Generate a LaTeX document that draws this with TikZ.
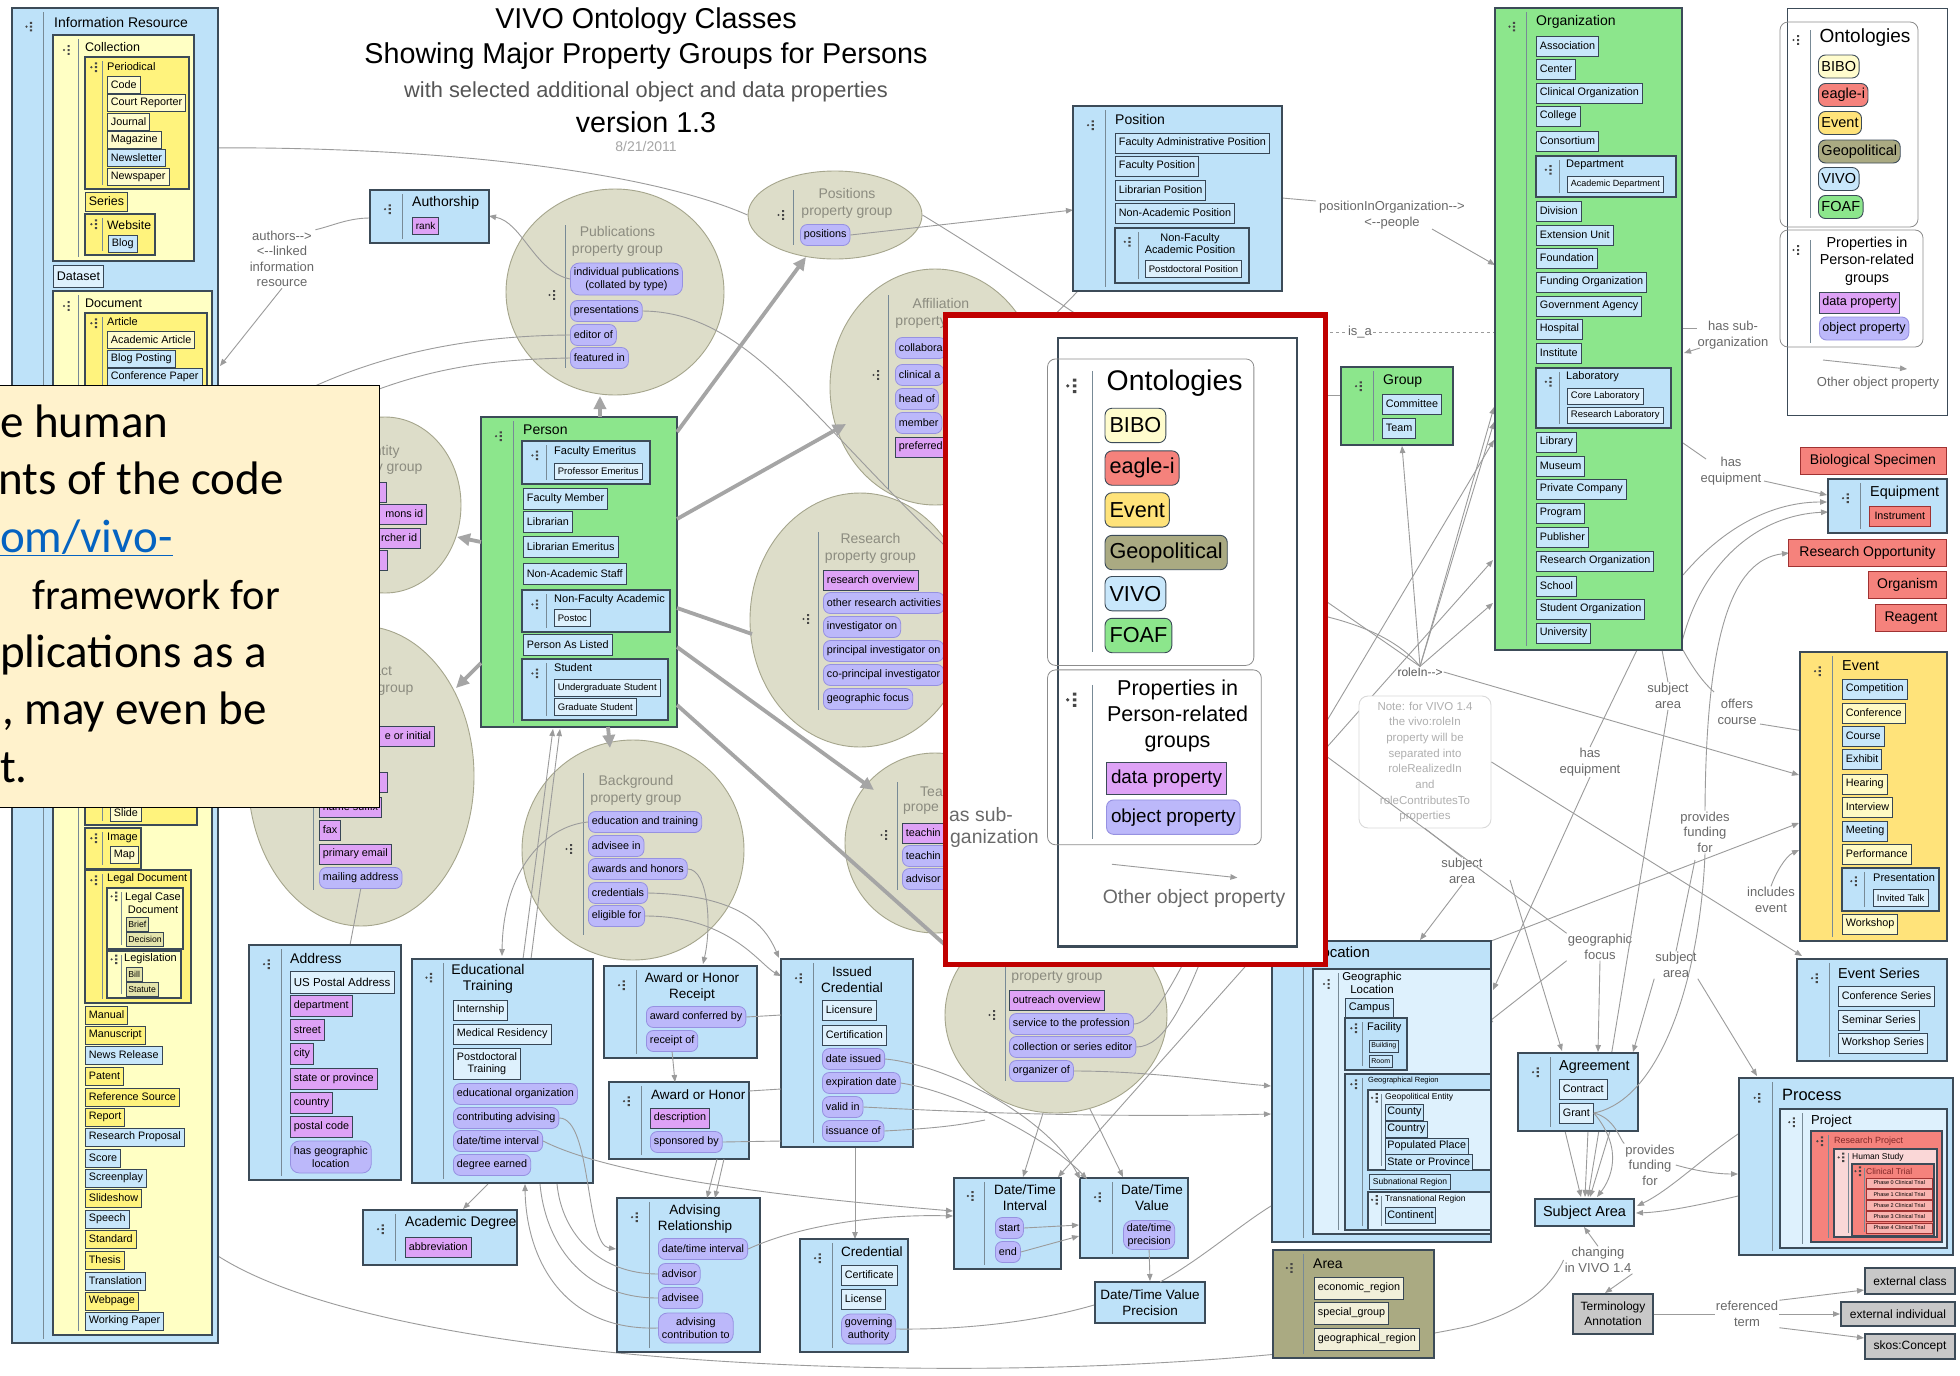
\documentclass[tikz,border=0pt]{standalone}
\usepackage{fontspec}
\setmainfont{Liberation Sans}
\setsansfont{Liberation Sans}
\newfontfamily\callfont{Carlito}
\usetikzlibrary{arrows.meta,fit,shapes.geometric}

\definecolor{vivob}{RGB}{190,226,249}
\definecolor{vivoi}{RGB}{200,231,251}
\definecolor{paleb}{RGB}{222,241,253}
\definecolor{foafg}{RGB}{140,230,140}
\definecolor{bibop}{RGB}{255,255,196}
\definecolor{biboy}{RGB}{255,243,125}
\definecolor{biboc}{RGB}{255,252,205}
\definecolor{evty}{RGB}{255,227,122}
\definecolor{evtp}{RGB}{255,250,196}
\definecolor{eagr}{RGB}{245,130,124}
\definecolor{eagl}{RGB}{160,50,50}
\definecolor{pinkl}{RGB}{250,215,215}
\definecolor{geoo}{RGB}{170,170,130}
\definecolor{khaki}{RGB}{228,228,172}
\definecolor{beige}{RGB}{242,240,218}
\definecolor{pgc}{RGB}{221,221,201}
\definecolor{pgl}{RGB}{165,165,140}
\definecolor{pgt}{RGB}{140,140,128}
\definecolor{dpc}{RGB}{222,162,246}
\definecolor{opc}{RGB}{188,184,250}
\definecolor{opl}{RGB}{150,145,225}
\definecolor{itl}{RGB}{55,70,85}
\definecolor{bdc}{RGB}{60,75,88}
\definecolor{divc}{RGB}{120,138,150}
\definecolor{gripc}{RGB}{70,70,70}
\definecolor{lnc}{RGB}{155,155,155}
\definecolor{thkc}{RGB}{165,165,165}
\definecolor{lblc}{RGB}{105,105,105}
\definecolor{grc}{RGB}{200,200,200}
\definecolor{subc}{RGB}{85,85,85}
\definecolor{datec}{RGB}{165,165,165}
\definecolor{callc}{RGB}{255,242,204}
\definecolor{linkc}{RGB}{5,99,193}
\definecolor{redc}{RGB}{192,0,0}
\definecolor{notec}{RGB}{175,175,175}

\tikzset{
  clsbox/.style={draw=bdc, line width=1.1pt, inner sep=0pt},
  ttl/.style={anchor=west, inner sep=0pt, font=\fontsize{14}{16}\selectfont},
  ttlc/.style={inner sep=0pt, align=center, font=\fontsize{13.5}{16}\selectfont},
  sttl/.style={anchor=west, inner sep=0pt, font=\fontsize{11}{12.5}\selectfont},
  it/.style={draw=itl, line width=0.8pt, anchor=west, inner xsep=3.5pt, inner ysep=0pt, minimum height=20pt, font=\fontsize{10.8}{12.5}\selectfont},
  itb/.style={it, fill=vivoi},
  itw/.style={it, fill=paleb},
  ity/.style={it, fill=biboc},
  ityy/.style={it, fill=biboy},
  itp/.style={it, fill=evtp},
  itk/.style={it, fill=khaki, font=\fontsize{8.7}{10}\selectfont, minimum height=14pt, inner xsep=2pt},
  itg/.style={it, fill=beige, minimum height=22pt},
  dp/.style={it, fill=dpc},
  op/.style={it, fill=opc, draw=opl, rounded corners=7pt, minimum height=21pt},
  pgroup/.style={ellipse, draw=pgl, fill=pgc, line width=0.9pt, inner sep=0pt},
  pgttl/.style={text=pgt, align=center, inner sep=0pt, font=\fontsize{14}{16.5}\selectfont},
  lbl/.style={text=lblc, align=center, inner sep=1pt, font=\fontsize{13}{15.5}\selectfont},
  cn/.style={draw=lnc, line width=0.9pt},
  cna/.style={cn, ->},
  thk/.style={draw=thkc, line width=3.8pt, -{Triangle[length=13pt,width=12pt]}},
  thkn/.style={draw=thkc, line width=3.8pt},
  redb/.style={draw=eagl, fill=eagr, line width=1pt, inner xsep=6pt, inner ysep=0pt, minimum height=27pt, font=\fontsize{14}{16}\selectfont},
  vbox/.style={draw=bdc, fill=vivob, line width=1.1pt, align=center, inner sep=3pt, font=\fontsize{14}{16}\selectfont},
  grayb/.style={draw=bdc, fill=grc, line width=1.1pt, align=center, inner sep=3pt, font=\fontsize{12}{15}\selectfont},
  notebox/.style={draw=black!15, fill=white, rounded corners=9pt, line width=0.9pt, text=notec, align=center, font=\fontsize{11.5}{15.7}\selectfont, minimum width=132pt, minimum height=132pt},
  lgpill/.style={draw=bdc, line width=0.9pt, rounded corners=7pt, anchor=west, minimum height=23pt, inner xsep=3pt, inner ysep=0pt, font=\fontsize{14.5}{16}\selectfont},
  grpl/.style={draw=black!45, line width=0.8pt},
  callbox/.style={draw=black, fill=callc, line width=1.4pt, inner sep=0pt},
  calltxt/.style={anchor=base west, inner sep=0pt, font=\callfont\fontsize{47}{54}\selectfont},
  phase/.style={draw=eagl, fill=eagr!60!white, line width=0.5pt, anchor=west, inner xsep=1.5pt, inner ysep=0pt, minimum height=10pt, minimum width=66pt, font=\fontsize{5.5}{6}\selectfont},
}

\newcommand{\rarr}{-{}->}
\newcommand{\larr}{<-{}-}
\newcommand{\gripicon}[2]{\fill[gripc] (#1-3.5,#2) circle (1.2pt) (#1,#2-4.8) rectangle ++(2.2,2) (#1,#2-1) rectangle ++(2.2,2) (#1,#2+2.8) rectangle ++(2.2,2);}
\newcommand{\classbox}[7]{\node[clsbox, fill=#6, fit={(#2,#3) (#4,#5)}] (#1) {};
  \gripicon{#2+0.58*#7}{#3+0.6*#7}
  \draw[divc, line width=0.9pt] (#2+#7,#3+4) -- (#2+#7,#5-4);}
\newcommand{\legendbody}[2]{%
  \draw[bdc, line width=#2] (0,0) rectangle (160,407);
  \draw[grpl, rounded corners=8pt] (-7,14) rectangle (131,219);
  \draw[grpl, rounded corners=8pt] (-7,222) rectangle (136,339);
  \draw[divc, line width=0.9pt] (23,22) -- (23,210) (23,232) -- (23,335);
  \gripicon{10}{32}
  \gripicon{10}{242}
  \node[inner sep=0pt, font=\fontsize{19}{21}\selectfont] (#1on) at (78,30) {Ontologies};
  \node[lgpill, fill=biboc] (#1bibo) at (31,58.5) {BIBO};
  \node[lgpill, fill=eagr] (#1eag) at (31,87) {eagle-i};
  \node[lgpill, fill=evty] (#1evt) at (31,115) {Event};
  \node[lgpill, fill=geoo] (#1geo) at (31,143.5) {Geopolitical};
  \node[lgpill, fill=vivoi] (#1vivo) at (31,171) {VIVO};
  \node[lgpill, fill=foafg] (#1foaf) at (31,199) {FOAF};
  \node[inner sep=0pt, align=center, font=\fontsize{14.4}{17.5}\selectfont] (#1prop) at (80,253) {Properties in\\Person-related\\groups};
  \node[lgpill, fill=dpc, rounded corners=0pt, minimum height=21pt, font=\fontsize{12.6}{14}\selectfont] (#1dp) at (32,294.5) {data property};
  \node[lgpill, fill=opc, draw=opl, font=\fontsize{12.6}{14}\selectfont] (#1op) at (32,320.5) {object property};
  \draw[cna] (36,352) -- (120,361);
  \node[lbl] (#1oth) at (91,375) {Other object property};
}

\begin{document}
\begin{tikzpicture}[x=1pt, y=-1pt, >={Triangle[length=7pt,width=5.5pt]}]
\useasboundingbox (0,0) rectangle (1960,1376);
\fill[white] (0,0) rectangle (1960,1376);

% property groups
\node[pgroup, minimum width=218pt, minimum height=206pt] (pubg) at (615,292) {};
\draw[divc, line width=0.9pt] (565,225) -- (565,368);
\gripicon{553}{295}
\node[pgttl] (pubt) at (617.5,241.5) {Publications\\property group};
\node[op, align=center, minimum height=32pt, rounded corners=9pt] (pub1) at (570,279) {individual publications\\(collated by type)};
\node[op] (pub2) at (570,311) {presentations};
\node[op] (pub3) at (570,335) {editor of};
\node[op] (pub4) at (570,358) {featured in};

\node[pgroup, minimum width=174pt, minimum height=88pt] (posg) at (835,215) {};
\draw[divc, line width=0.9pt] (793,190) -- (793,245);
\gripicon{782}{215}
\node[pgttl] (post) at (847,203.5) {Positions\\property group};
\node[op] (pos1) at (800,235) {positions};

\node[pgroup, minimum width=210pt, minimum height=236pt] (affg) at (935,387) {};
\draw[divc, line width=0.9pt] (888,295) -- (888,490);
\gripicon{877}{375}
\node[pgttl] (afft) at (941,313.5) {Affiliation\\property group};
\node[op] (af1) at (895,348) {collabora\hspace{14pt}};
\node[op] (af2) at (895,375) {clinical a\hspace{14pt}};
\node[op] (af3) at (895,399) {head of\hspace{20pt}};
\node[op] (af4) at (895,423) {member\hspace{20pt}};
\node[dp] (af5) at (895,447) {preferred\hspace{14pt}};

\node[pgroup, minimum width=152pt, minimum height=176pt] (idg) at (385,505) {};
\node[pgttl] (idt) at (377,460) {Identity\\property group};
\node[dp, anchor=east] (id1) at (387,492) {\makebox[50pt]{}};
\node[dp, anchor=east] (id2) at (427,514) {\makebox[80pt][r]{mons id}};
\node[dp, anchor=east] (id3) at (421,538) {\makebox[80pt][r]{rcher id}};
\node[dp, anchor=east] (id4) at (388,560) {\makebox[50pt]{}};

\node[pgroup, minimum width=226pt, minimum height=300pt] (ctg) at (361,776) {};
\draw[divc, line width=0.9pt] (313,700) -- (313,890);
\node[pgttl] (ctt) at (368,680.5) {Contact\\property group};
\node[dp, anchor=east] (ct1) at (435,736) {\makebox[110pt][r]{e or initial}};
\node[dp, anchor=east] (ct2) at (388,782) {\makebox[60pt]{}};
\node[dp] (ct3) at (319,807) {name suffix};
\node[dp] (ct4) at (319,830) {fax};
\node[dp] (ct5) at (319,854) {primary email};
\node[op] (ct6) at (319,878) {mailing address};

\node[pgroup, minimum width=220pt, minimum height=254pt] (resg) at (860,620) {};
\draw[divc, line width=0.9pt] (818,532) -- (818,710);
\gripicon{807}{619}
\node[pgttl] (rest) at (870.5,548.5) {Research\\property group};
\node[dp] (res1) at (823,580) {research overview};
\node[op] (res2) at (823,603) {other research activities};
\node[op] (res3) at (823,627) {investigator on};
\node[op] (res4) at (823,651) {principal investigator on};
\node[op] (res5) at (823,675) {co-principal investigator};
\node[op] (res6) at (823,699) {geographic focus};

\node[pgroup, minimum width=222pt, minimum height=220pt] (bgg) at (633,850) {};
\draw[divc, line width=0.9pt] (583,773) -- (583,935);
\gripicon{570}{849}
\node[pgttl] (bgt) at (636,790.5) {Background\\property group};
\node[op] (bg1) at (588,822) {education and training};
\node[op] (bg2) at (588,846) {advisee in};
\node[op] (bg3) at (588,869) {awards and honors};
\node[op] (bg4) at (588,893) {credentials};
\node[op] (bg5) at (588,916) {eligible for};

\node[pgroup, minimum width=180pt, minimum height=180pt] (teg) at (935,843) {};
\draw[divc, line width=0.9pt] (897,782) -- (897,890);
\gripicon{885}{835}
\node[pgttl, anchor=west] (tet1) at (920,792) {Tea};
\node[pgttl, anchor=west] (tet2) at (903,809) {prope};
\node[dp] (te1) at (902,833) {\makebox[41pt][l]{teachin}};
\node[op] (te2) at (902,856) {\makebox[41pt][l]{teachin}};
\node[op] (te3) at (902,879) {\makebox[41pt][l]{advisor}};

\node[pgroup, minimum width=222pt, minimum height=196pt] (svg) at (1056,1015) {};
\draw[divc, line width=0.9pt] (1005,950) -- (1005,1081);
\gripicon{993}{1015}
\node[pgttl] (svt) at (1057,977) {property group};
\node[dp] (sv1) at (1009,1000) {outreach overview};
\node[op] (sv2) at (1009,1024) {service to the profession};
\node[op] (sv3) at (1009,1047) {collection or series editor};
\node[op] (sv4) at (1009,1071) {organizer of};

% edge labels
\node[lbl] (lauth) at (282,259) {authors\rarr\\\larr linked\\information\\resource};
\node[lbl] (lpio) at (1392,215) {positionInOrganization\rarr\\\larr people};
\node[lbl, fill=white] (lisa) at (1360,332) {is\_a};
\node[lbl] (lsub) at (1733,335) {has sub-\\organization};
\node[lbl] (lheq1) at (1731,471) {has\\equipment};
\node[lbl] (lsa1) at (1668,696) {subject\\area};
\node[lbl] (lofc) at (1737,712) {offers\\course};
\node[lbl] (lheq2) at (1590,762) {has\\equipment};
\node[lbl] (lpf1) at (1705,832) {provides\\funding\\for};
\node[lbl] (lie) at (1771,900) {includes\\event};
\node[lbl, text=black!65, font=\fontsize{12}{14}\selectfont] (lrole) at (1420,672) {roleIn\rarr};
\node[lbl] (lsa2) at (1462,871) {subject\\area};
\node[lbl] (lgf) at (1600,947) {geographic\\focus};
\node[lbl] (lsa3) at (1676,965) {subject\\area};
\node[lbl] (lpf2) at (1650,1165) {provides\\funding\\for};
\node[lbl] (lchg) at (1598,1260) {changing\\in VIVO 1.4};
\node[lbl] (lref) at (1747,1314) {referenced\\term};

% long connectors
\draw[cna] (posg.west) .. controls (640,168) and (420,146) .. (196,148);
\draw[cna] (pub1.west) .. controls (535,272) and (522,222) .. (489,216);
\draw[cn] (370,218) .. controls (348,218) and (332,226) .. (lauth.north east);
\draw[cna] (lauth.south) -- (220,366);
\draw[cna] (pub3.west) .. controls (440,336) and (330,365) .. (220,440);
\draw[cna] (pub4.west) .. controls (450,360) and (370,378) .. (220,470);
\draw[cn] (pub2.east) .. controls (750,312) and (810,420) .. (960,560);
\draw[cna] (pos1.east) -- (1073,210);
\draw[cn] (posg.east) .. controls (980,250) and (1040,290) .. (1100,330);
\draw[cn] (1078,291) -- (1040,330);
\draw[cn] (1282,198) -- (1316,201);
\draw[cna] (1432,229) -- (1495,265);
\draw[cn, dashed] (1300,332) -- (lisa.west);
\draw[cn, dashed] (lisa.east) -- (1495,332);
\draw[cn] (1341,395) -- (1320,395);
\draw[cna] (lrole.north) -- (1402,446);
\draw[cna] (lrole.north) -- (1494,407);
\draw[cna] (lrole.north) -- (1494,422);
\draw[cna] (lrole.north) -- (1493,603);
\draw[cna] (lrole.east) -- (1799,775);
\draw[cn] (1180,500) -- (lrole.north);
\draw[cn] (1150,600) .. controls (1320,600) and (1390,630) .. (lrole.north);
\draw[cna] (1250,850) -- (1494,440);
\draw[cna] (1280,800) -- (1493,560);
\draw[cn] (1683,328) -- (1697,328);
\draw[cna] (1700,348) -- (1684,353);
\draw[cn] (1683,443) -- (1706,459);
\draw[cna] (1764,481) -- (1827,495);
\draw[cna] (1683,575) .. controls (1730,520) and (1780,502) .. (1827,502);
\draw[cna] (1680,650) .. controls (1700,560) and (1760,515) .. (1828,512);
\draw[cna] (lpf1.north) .. controls (1706,640) and (1730,560) .. (1789,553);
\draw[cn] (1683,650) .. controls (1695,672) and (1705,684) .. (1714,692);
\draw[cna] (1760,724) -- (1841,737);
\draw[cn] (1662,650) -- (lsa1.north);
\draw[cna] (lsa1.south) -- (1588,1197);
\draw[cn] (1637,650) -- (lheq2.north);
\draw[cna] (lheq2.south) -- (1493,990);
\draw[cna] (lie.north) .. controls (1776,872) and (1786,856) .. (1799,850);
\draw[cna] (1491,941) -- (1799,823);
\node[notebox] (note14) at (1425,762) {Note: for VIVO 1.4\\the vivo:roleIn\\property will be\\separated into\\roleRealizedIn\\and\\roleContributesTo\\properties};
\draw[cna] (note14.east) -- (1802,956);
\draw[cn] (note14.south) -- (lsa2.north);
\draw[cna] (lsa2.south) -- (1420,940);
\draw[cna] (lgf.south west) -- (1486,1024);
\draw[cna] (lgf.south) -- (1598,1052);
\draw[cn] (1250,700) -- (lgf.north west);
\draw[cna] (1510,880) -- (1562,1051);
\draw[cna] (lsa3.south west) -- (1633,1052);
\draw[cna] (lsa3.south east) -- (1757,1076);
\draw[cn] (1695,860) -- (lsa3.north);
\draw[cna] (1565,1131) -- (1581,1197);
\draw[cna] (1588,1131) -- (1585,1197);
\draw[cna] (1610,1131) -- (1590,1197);
\draw[cna] (1738,1196) .. controls (1700,1205) and (1665,1212) .. (1636,1213);
\draw[cna] (1738,1134) .. controls (1700,1160) and (1670,1190) .. (1637,1206);
\draw[cna] (lpf2.east) .. controls (1700,1172) and (1720,1174) .. (1738,1174);
\draw[cn] (218,1256) .. controls (420,1385) and (1150,1395) .. (1470,1326) .. controls (1520,1312) and (1550,1290) .. (lchg.west);
\draw[cna] (bg1.west) .. controls (545,826) and (503,870) .. (502,956);
\draw[cna] (523,959) -- (553,729);
\draw[cna] (531,959) -- (560,729);
\draw[cna] (bg3.east) .. controls (708,869) and (712,925) .. (703,964);
\draw[cna] (bg4.east) .. controls (740,895) and (765,925) .. (779,958);
\draw[cna] (bg5.east) .. controls (730,916) and (760,965) .. (781,976);
\draw[cn] (ct6.south) -- (350,945);
\draw[cna] (855,1147) -- (855,1239);
\draw[cna] (1043,1113) -- (1023,1177);
\draw[cna] (1090,1109) -- (1123,1177);
\draw[cna] (1300,905) -- (1058,1177);
\draw[cn] (sv2.east) .. controls (1150,1024) and (1170,990) .. (1190,950);
\draw[cn] (sv3.east) .. controls (1165,1047) and (1185,1000) .. (1205,950);
\draw[cna] (sv4.east) .. controls (1150,1071) and (1220,1082) .. (1271,1086);

% Information Resource
\classbox{ir}{12}{8}{218}{1343}{vivob}{31}
\node[ttl] (irt) at (54,22) {Information Resource};
\classbox{coll}{53}{35}{194}{261}{bibop}{25}
\node[ttl, font=\fontsize{12.5}{14}\selectfont] (collt) at (85,47) {Collection};
\classbox{peri}{85}{57}{189}{189}{biboy}{17}
\node[sttl] (perit) at (107,67) {Periodical};
\foreach \txt/\yy/\st [count=\i] in {Code/85/ity,Court Reporter/103/ity,Journal/122/ity,Magazine/140/ity,Newsletter/158/itb,Newspaper/177/ity}
  \node[\st, minimum height=17pt] (peri\i) at (107,\yy) {\txt};
\node[ityy, minimum height=19pt, font=\fontsize{12.4}{14}\selectfont] (ser) at (85,201.5) {Series};
\classbox{web}{85}{214}{155}{255}{biboy}{17}
\node[sttl, font=\fontsize{12.2}{14}\selectfont] (webt) at (107,225) {Website};
\node[itb, minimum height=17pt] (blog) at (108,243.5) {Blog};
\node[itw, minimum height=22pt, font=\fontsize{12.5}{14}\selectfont] (dset) at (53,276) {Dataset};
\classbox{doc}{53}{291}{212}{1335}{bibop}{25}
\node[ttl, font=\fontsize{12.5}{14}\selectfont] (doct) at (85,303) {Document};
\classbox{art}{85}{313}{207}{520}{biboy}{17}
\node[sttl] (artt) at (107,322) {Article};
\node[ity, minimum height=17pt] (art1) at (107,340) {Academic Article};
\node[itb, minimum height=17pt] (art2) at (107,359) {Blog Posting};
\node[itb, minimum height=17pt] (art3) at (107,377) {Conference Paper};
\classbox{slid}{85}{700}{197}{825}{biboy}{17}
\node[ity, minimum height=17pt] (slide) at (110,813) {Slide};
\classbox{img}{85}{828}{141}{869}{biboy}{17}
\node[sttl] (imgt) at (107,838) {Image};
\node[ity, minimum height=17pt] (map) at (110,855) {Map};
\classbox{legal}{85}{870}{191}{1003}{biboy}{17}
\node[sttl] (legalt) at (107,879) {Legal Document};
\classbox{lcase}{107}{888}{183}{949}{bibop}{14}
\node[ttlc, font=\fontsize{11}{12.5}\selectfont] (lcaset) at (153,903) {Legal Case\\Document};
\node[itk] (brief) at (126,924) {Brief};
\node[itk] (decis) at (126,939) {Decision};
\classbox{legis}{107}{951}{181}{998}{bibop}{14}
\node[sttl] (legist) at (124,959) {Legislation};
\node[itk] (bill) at (126,974) {Bill};
\node[itk] (stat) at (126,989) {Statute};
\foreach \txt/\yy/\st [count=\i] in {Manual/1015/ityy,Manuscript/1035/ityy,News Release/1055/itb,Patent/1076/ityy,Reference Source/1097/ityy,Report/1117/ityy,Research Proposal/1137/itb,Score/1158/itb,Screenplay/1178/itb,Slideshow/1198/ityy,Speech/1219/itb,Standard/1239/ityy,Thesis/1260/ityy,Translation/1281/itb,Webpage/1301/ityy,Working Paper/1321/itb}
  \node[\st, minimum height=18pt] (doc\i) at (85,\yy) {\txt};

% Authorship
\classbox{auth}{370}{190}{489}{243}{vivob}{32}
\node[ttl] (autht) at (412,203) {Authorship};
\node[dp, minimum height=17pt, font=\fontsize{10}{11}\selectfont] (rank) at (412,226) {rank};

% Person
\classbox{person}{481}{417}{677}{727}{foafg}{32}
\node[ttl] (persont) at (523,430) {Person};
\classbox{femer}{522}{441}{650}{484}{vivob}{24}
\node[sttl] (femert) at (554,452) {Faculty Emeritus};
\node[itw, minimum height=16pt, font=\fontsize{9.5}{11}\selectfont] (prof) at (554,471) {Professor Emeritus};
\foreach \txt/\yy [count=\i] in {Faculty Member/499,Librarian/522,Librarian Emeritus/547,Non-Academic Staff/574,Person As Listed/645}
  \node[itb, minimum height=21pt] (per\i) at (523,\yy) {\txt};
\classbox{nfa}{522}{590}{670}{632}{vivob}{24}
\node[sttl] (nfat) at (554,600) {Non-Faculty Academic};
\node[itw, minimum height=17pt, font=\fontsize{9.5}{11}\selectfont] (postoc) at (554,618) {Postoc};
\classbox{stud}{522}{659}{668}{720}{vivob}{24}
\node[sttl] (studt) at (554,668) {Student};
\node[itw, minimum height=17pt, font=\fontsize{9.5}{11}\selectfont] (ugrad) at (554,688) {Undergraduate Student};
\node[itw, minimum height=17pt, font=\fontsize{9.5}{11}\selectfont] (grad) at (554,707) {Graduate Student};

% Position
\classbox{posn}{1073}{106}{1282}{291}{vivob}{32}
\node[ttl] (posnt) at (1115,119) {Position};
\foreach \txt/\yy [count=\i] in {Faculty Administrative Position/143,Faculty Position/166,Librarian Position/190,Non-Academic Position/213}
  \node[itb] (posn\i) at (1115,\yy) {\txt};
\classbox{nfap}{1115}{228}{1249}{283}{vivob}{23}
\node[ttlc, font=\fontsize{11}{12}\selectfont] (nfapt) at (1190,244) {Non-Faculty\\Academic Position};
\node[itw, minimum height=17pt, font=\fontsize{9.5}{11}\selectfont] (pdoc) at (1145,269) {Postdoctoral Position};

% Group
\classbox{grp}{1341}{367}{1453}{445}{foafg}{32}
\node[ttl] (grpt) at (1383,381) {Group};
\node[itb] (comm) at (1382,404) {Committee};
\node[itb] (team) at (1382,428) {Team};

% Organization
\classbox{org}{1495}{8}{1682}{650}{foafg}{31}
\node[ttl] (orgt) at (1536,22) {Organization};
\foreach \txt/\yy [count=\i] in {Association/46,Center/69,Clinical Organization/93,College/116,Consortium/141,Division/211,Extension Unit/235,Foundation/258,Funding Organization/282,Government Agency/306,Hospital/329,Institute/353,Library/442,Museum/466,Private Company/489,Program/513,Publisher/537,Research Organization/561,School/586,Student Organization/609,University/633}
  \node[itb] (org\i) at (1536,\yy) {\txt};
\classbox{dept}{1536}{156}{1676}{197}{vivob}{23}
\node[sttl] (deptt) at (1566,165) {Department};
\node[itw, minimum height=16pt, font=\fontsize{9}{10}\selectfont] (adept) at (1567,184) {Academic Department};
\classbox{lab}{1536}{368}{1671}{428}{vivob}{23}
\node[sttl] (labt) at (1566,377) {Laboratory};
\node[itw, minimum height=16pt, font=\fontsize{9.5}{11}\selectfont] (clab) at (1567,396) {Core Laboratory};
\node[itw, minimum height=16pt, font=\fontsize{9.5}{11}\selectfont] (rlab) at (1567,415) {Research Laboratory};

% eagle-i classes
\node[redb, minimum width=146pt] (bio) at (1873,461) {Biological Specimen};
\classbox{equip}{1828}{479}{1947}{533}{vivob}{32}
\node[ttl, font=\fontsize{14.4}{16}\selectfont] (equipt) at (1870,493) {Equipment};
\node[redb, anchor=west, minimum height=20pt, font=\fontsize{10.7}{12}\selectfont, inner xsep=5pt] (instr) at (1869,516) {Instrument};
\node[redb, anchor=east, minimum width=158pt] (ropp) at (1947,552.5) {Research Opportunity};
\node[redb, anchor=east, minimum width=78pt] (orgm) at (1947,585) {Organism};
\node[redb, anchor=east, minimum width=71pt] (reag) at (1947,618) {Reagent};

% Event
\classbox{evt}{1800}{652}{1947}{941}{evty}{32}
\node[ttl, font=\fontsize{14.4}{16}\selectfont] (evtt) at (1842,666) {Event};
\foreach \txt/\yy/\st [count=\i] in {Competition/689/itb,Conference/713/itp,Course/736/itb,Exhibit/759/itb,Hearing/784/itp,Interview/807/itp,Meeting/831/itb,Performance/854/itp,Workshop/924/itp}
  \node[\st] (ev\i) at (1842,\yy) {\txt};
\classbox{prs}{1842}{868}{1939}{911}{vivob}{22}
\node[sttl] (prst) at (1873,878) {Presentation};
\node[itw, minimum height=17pt, font=\fontsize{9.5}{11}\selectfont] (talk) at (1873,898) {Invited Talk};

\classbox{evs}{1797}{959}{1947}{1061}{vivob}{32}
\node[ttl, font=\fontsize{14.4}{16}\selectfont] (evst) at (1838,973) {Event Series};
\foreach \txt/\yy [count=\i] in {Conference Series/996,Seminar Series/1020,Workshop Series/1043}
  \node[itw] (evs\i) at (1838,\yy) {\txt};

% Process
\classbox{proc}{1739}{1078}{1953}{1255}{vivob}{33}
\node[ttl, font=\fontsize{16.4}{18}\selectfont] (proct) at (1782,1095) {Process};
\classbox{proj}{1780}{1109}{1947}{1248}{paleb}{22}
\node[ttl, font=\fontsize{13}{15}\selectfont] (projt) at (1811,1121) {Project};
\classbox{rproj}{1811}{1131}{1942}{1242}{eagr}{17}
\node[sttl, font=\fontsize{9}{10}\selectfont, text=eagl!80!black] (rprojt) at (1834,1141) {Research Project};
\classbox{hstud}{1834}{1149}{1937}{1237}{pinkl}{14}
\node[sttl, font=\fontsize{8.5}{10}\selectfont] (hstudt) at (1852,1157) {Human Study};
\classbox{ctri}{1852}{1164}{1934}{1236}{eagr}{12}
\node[sttl, font=\fontsize{8.5}{10}\selectfont, text=eagl!80!black] (ctrit) at (1866,1171) {Clinical Trial};
\foreach \i in {0,...,4}
  \node[phase] (ph\i) at (1866,1183+11.2*\i) {Phase \i\ Clinical Trial};

% Agreement, Subject Area, Terminology
\classbox{agr}{1518}{1053}{1638}{1131}{vivob}{32}
\node[ttl, font=\fontsize{14.4}{16}\selectfont] (agrt) at (1559,1067) {Agreement};
\node[itw] (contr) at (1559,1089) {Contract};
\node[itw] (grant) at (1559,1113) {Grant};
\node[vbox, minimum width=99pt, minimum height=27pt, font=\fontsize{14.5}{16}\selectfont] (subj) at (1584.5,1212.5) {Subject Area};
\node[grayb, minimum width=80pt, minimum height=40pt] (term) at (1613,1314) {Terminology\\Annotation};
\node[grayb, minimum width=90pt, minimum height=26pt] (extc) at (1910,1281) {external class};
\node[grayb, minimum width=114pt, minimum height=24pt] (exti) at (1898,1314) {external individual};
\node[grayb, minimum width=90pt, minimum height=25pt] (skos) at (1910,1346.5) {skos:Concept};

% Location
\classbox{loc}{1272}{941}{1491}{1242}{vivob}{31}
\node[ttl, font=\fontsize{15}{17}\selectfont] (loct) at (1313,952) {Location};
\classbox{geoloc}{1313}{969}{1491}{1234}{paleb}{25}
\node[ttlc, font=\fontsize{11.5}{12.5}\selectfont] (geolt) at (1372,983) {Geographic\\Location};
\node[itb, minimum height=19pt, font=\fontsize{11}{12}\selectfont] (camp) at (1345,1008) {Campus};
\classbox{fac}{1345}{1018}{1407}{1070}{vivob}{17}
\node[sttl] (fact) at (1367,1028) {Facility};
\node[itb, minimum height=12pt, font=\fontsize{7}{8}\selectfont, inner xsep=2pt] (bldg) at (1369,1046) {Building};
\node[itb, minimum height=12pt, font=\fontsize{7}{8}\selectfont, inner xsep=2pt] (room) at (1369,1061) {Room};
\classbox{georeg}{1345}{1074}{1491}{1230}{vivob}{17}
\node[sttl, font=\fontsize{7.5}{8.5}\selectfont] (geort) at (1368,1081) {Geographical Region};
\classbox{gpe}{1368}{1090}{1491}{1170}{paleb}{13}
\node[sttl, font=\fontsize{8.5}{10}\selectfont] (gpet) at (1385,1097) {Geopolitical Entity};
\foreach \txt/\yy [count=\i] in {County/1112,Country/1129,Populated Place/1146,State or Province/1162}
  \node[itb, minimum height=16pt, inner xsep=2pt] (gpe\i) at (1385,\yy) {\txt};
\node[itb, minimum height=15pt, font=\fontsize{8.5}{10}\selectfont] (subn) at (1369,1182) {Subnational Region};
\classbox{trr}{1368}{1192}{1491}{1230}{paleb}{13}
\node[sttl, font=\fontsize{8.5}{10}\selectfont] (trrt) at (1385,1199) {Transnational Region};
\node[itb, minimum height=16pt, inner xsep=2pt] (cont) at (1385,1215) {Continent};

% Address
\classbox{addr}{249}{945}{401}{1180}{vivob}{32}
\node[ttl] (addrt) at (290,958) {Address};
\node[itw, minimum height=22pt, font=\fontsize{11.5}{13}\selectfont] (ad0) at (290,982) {US Postal Address};
\foreach \txt/\yy [count=\i] in {department/1006,street/1030,city/1054,state or province/1079,country/1103,postal code/1127}
  \node[dp, minimum height=21pt] (ad\i) at (290,\yy) {\txt};
\node[op, align=center, minimum height=32pt, rounded corners=9pt] (ad7) at (290,1157) {has geographic\\location};

% Educational Training
\classbox{edu}{412}{959}{593}{1183}{vivob}{31}
\node[ttlc, font=\fontsize{14}{16}\selectfont] (edut) at (488,979) {Educational\\Training};
\node[itw] (e1) at (453,1010) {Internship};
\node[itw] (e2) at (453,1034) {Medical Residency};
\node[itw, align=center, minimum height=31pt] (e3) at (453,1063.5) {Postdoctoral\\Training};
\node[op] (e4) at (453,1094) {educational organization};
\node[op] (e5) at (453,1118) {contributing advising};
\node[op] (e6) at (453,1141) {date/time interval};
\node[op] (e7) at (453,1165) {degree earned};

\classbox{adeg}{363}{1210}{517}{1265}{vivob}{32}
\node[ttl] (adegt) at (405,1223) {Academic Degree};
\node[dp] (abbr) at (405,1247) {abbreviation};

\classbox{ahr}{604}{966}{757}{1058}{vivob}{32}
\node[ttlc] (ahrt) at (692,987) {Award or Honor\\Receipt};
\node[op] (ahr1) at (646,1017) {award conferred by};
\node[op] (ahr2) at (646,1041) {receipt of};

\classbox{ah}{609}{1082}{749}{1159}{vivob}{32}
\node[ttl, font=\fontsize{13.5}{16}\selectfont] (aht) at (651,1095) {Award or Honor};
\node[dp] (ah1) at (650,1118) {description};
\node[op] (ah2) at (650,1142) {sponsored by};

\classbox{ic}{781}{959}{913}{1147}{vivob}{32}
\node[ttlc] (ict) at (852,980) {Issued\\Credential};
\node[itw] (ic1) at (822,1010) {Licensure};
\node[itw] (ic2) at (822,1035) {Certification};
\node[op] (ic3) at (822,1059) {date issued};
\node[op] (ic4) at (822,1083) {expiration date};
\node[op] (ic5) at (822,1107) {valid in};
\node[op] (ic6) at (822,1131) {issuance of};

\classbox{adv}{617}{1198}{760}{1352}{vivob}{32}
\node[ttlc] (advt) at (695,1218.5) {Advising\\Relationship};
\node[op] (adv1) at (658,1249) {date/time interval};
\node[op] (adv2) at (658,1274) {advisor};
\node[op] (adv3) at (658,1298) {advisee};
\node[op, align=center, minimum height=30pt, rounded corners=9pt] (adv4) at (658,1328) {advising\\contribution to};

\classbox{cred}{800}{1239}{908}{1352}{vivob}{32}
\node[ttl, font=\fontsize{13.5}{16}\selectfont] (credt) at (841,1252) {Credential};
\node[itw] (cr1) at (841,1275) {Certificate};
\node[itw] (cr2) at (841,1299) {License};
\node[op, align=center, minimum height=30pt, rounded corners=9pt] (cr3) at (841,1329) {governing\\authority};

\classbox{dti}{954}{1178}{1061}{1269}{vivob}{30}
\node[ttlc] (dtit) at (1025,1197.5) {Date/Time\\Interval};
\node[op] (dti1) at (995,1228) {start};
\node[op] (dti2) at (995,1252) {end};

\classbox{dtv}{1080}{1178}{1188}{1258}{vivob}{32}
\node[ttlc] (dtvt) at (1152,1197.5) {Date/Time\\Value};
\node[op, align=center, minimum height=29pt, rounded corners=9pt] (dtv1) at (1123,1235) {date/time\\precision};
\node[vbox, minimum width=110pt, minimum height=41pt, font=\fontsize{13.5}{16}\selectfont] (dtvp) at (1150,1302.5) {Date/Time Value\\Precision};

\classbox{area}{1273}{1250}{1434}{1358}{geoo}{30}
\node[ttl] (areat) at (1313,1264) {Area};
\node[itg] (ar1) at (1314,1288) {economic\_region};
\node[itg] (ar2) at (1314,1313) {special\_group};
\node[itg] (ar3) at (1314,1339) {geographical\_region};

% short connectors from items
\draw[cn] (ahr1.east) -- (781,1015);
\draw[cna] (ahr2.south) -- (675,1082);
\draw[cn] (749,1091) -- (781,1089);
\draw[cn] (ah2.east) -- (781,1141);
\draw[cna] (717,1159) -- (707,1198);
\draw[cna] (724,1159) -- (715,1198);
\draw[cna] (ic3.east) .. controls (950,1065) and (1050,1120) .. (1080,1179);
\draw[cna] (ic4.east) .. controls (960,1092) and (1050,1140) .. (1087,1179);
\draw[cna] (ic5.east) .. controls (960,1112) and (1100,1118) .. (1271,1114);
\draw[cn] (ic6.east) .. controls (940,1128) and (960,1125) .. (985,1120);
\draw[cna] (e6.east) .. controls (620,1180) and (820,1200) .. (953,1211);
\draw[cna] (adv1.east) .. controls (800,1225) and (880,1214) .. (953,1216);
\draw[cna] (e5.east) .. controls (592,1118) and (585,1245) .. (616,1249);
\draw[cn] (adv2.west) .. controls (600,1274) and (562,1235) .. (557,1184);
\draw[cn] (adv3.west) .. controls (580,1298) and (545,1240) .. (540,1184);
\draw[cna] (adv4.west) .. controls (560,1331) and (526,1255) .. (525,1184);
\draw[cna] (488,1184) -- (463,1209);
\draw[cna] (dti1.east) -- (1079,1225);
\draw[cna] (dti2.east) -- (1079,1236);
\draw[cna] (dtv1.south) -- (1150,1281);
\draw[cn] (1160,1282) .. controls (1200,1260) and (1240,1225) .. (1271,1206);
\draw[cn] (cr3.east) .. controls (980,1330) and (1050,1318) .. (1094,1305);
\draw[cna] (grant.east) .. controls (1625,1150) and (1610,1180) .. (1597,1197);
\draw[cn] (grant.east) .. controls (1615,1118) and (1620,1140) .. (lpf2.north west);
\draw[cn] (grant.east) .. controls (1660,1100) and (1700,980) .. (lpf1.south);
\draw[cna] (lchg.north) -- (1584,1227);
\draw[cna] (lchg.south east) -- (1605,1293);
\draw[cn] (term.east) -- (lref.west);
\draw[cna] (lref.north east) -- (1864,1290);
\draw[cna] (lref.east) -- (1840,1314);
\draw[cna] (lref.south east) -- (1864,1338);

% thick arrows from Person
\draw[thk] (600,417) -- (600,396);
\draw[thk] (677,432) -- (806,257);
\draw[thk] (677,519) -- (846,424);
\draw[thkn] (677,608) -- (752,634);
\draw[thk] (677,647) -- (874,790);
\draw[thk] (677,705) -- (962,960);
\draw[thk] (608,727) -- (610,748);
\draw[thk] (481,542) -- (457,537);
\draw[thk] (481,663) -- (456,688);

% title
\node[font=\fontsize{28.7}{32}\selectfont] (ttl1) at (646,21.5) {VIVO Ontology Classes};
\node[font=\fontsize{28.7}{32}\selectfont] (ttl2) at (646,56.5) {Showing Major Property Groups for Persons};
\node[font=\fontsize{21.8}{24}\selectfont, text=subc] (ttl3) at (646,92) {with selected additional object and data properties};
\node[font=\fontsize{28.7}{32}\selectfont] (ttl4) at (646,122) {version 1.3};
\node[font=\fontsize{14}{16}\selectfont, text=datec] (ttl5) at (646,146.5) {8/21/2011};

% legend
\begin{scope}[shift={(1787,8)}]
  \legendbody{l}{0.9pt}
\end{scope}

% callout
\node[callbox, anchor=north west, minimum width=381pt, minimum height=422pt] (callout) at (-2,385) {};
\node[calltxt] (cl1) at (0,437) {e human};
\node[calltxt] (cl2) at (-2,494.5) {nts of the code};
\node[calltxt, text=linkc] (cl3) at (0,552) {\underline{om/vivo-}};
\node[calltxt, font=\callfont\fontsize{42.5}{50}\selectfont] (cl4) at (32,609.5) {framework for};
\node[calltxt] (cl5) at (0,667) {plications as a};
\node[calltxt] (cl6) at (2,724.5) {, may even be};
\node[calltxt] (cl7) at (0,782) {t.};

% zoomed legend
\begin{scope}
  \clip (946,316) rectangle (1325,963);
  \fill[white] (946,316) rectangle (1325,963);
  \begin{scope}[shift={(1058,338)}, scale=1.495, transform shape]
    \legendbody{r}{2.4pt}
  \end{scope}
  \node[lbl, anchor=west, inner sep=0pt, font=\fontsize{19.4}{23}\selectfont] (rsub1) at (949,815) {as sub-};
  \node[lbl, anchor=west, inner sep=0pt, font=\fontsize{19.4}{23}\selectfont] (rsub2) at (950,838) {ganization};
\end{scope}
\draw[redc, line width=5.5pt] (945.5,315) rectangle (1325.5,964.5);
\end{tikzpicture}
\end{document}
